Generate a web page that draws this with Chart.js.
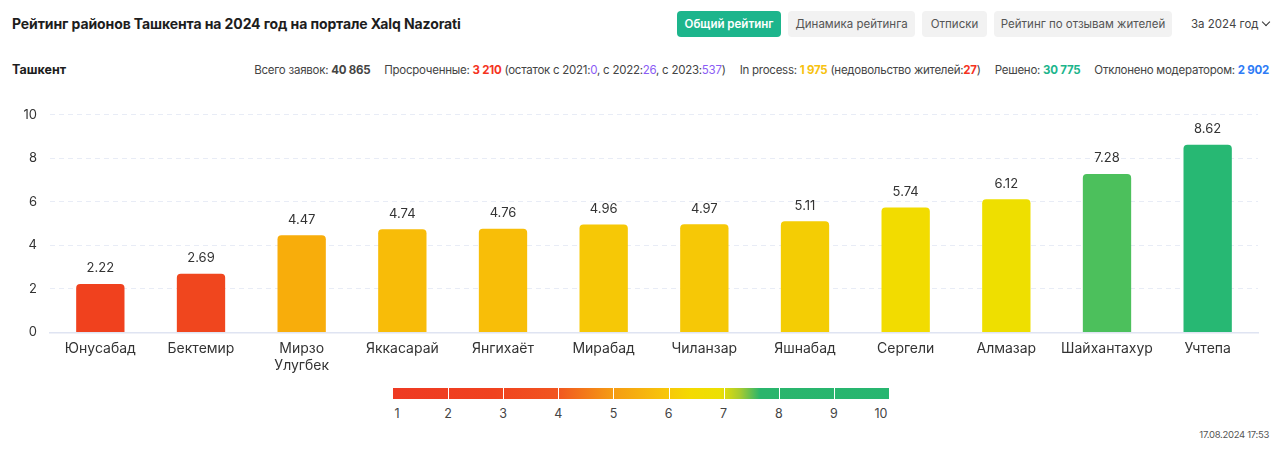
<!DOCTYPE html>
<html><head><meta charset="utf-8">
<script src="https://cdn.jsdelivr.net/npm/chart.js@4"></script>
<style>
html,body{margin:0;padding:0;background:#fff;width:1280px;height:449px;overflow:hidden;font-family:Inter,"Noto Sans",sans-serif;color:#222;}
#title{position:absolute;left:12px;top:15px;font-size:14px;font-weight:700;color:#1d1d1d;letter-spacing:-0.1px}
.btn{position:absolute;top:11px;height:26px;line-height:26px;border-radius:4px;font-size:11.5px;text-align:center;background:#f2f2f2;color:#555}
.btn.on{background:#1db58c;color:#fff;font-weight:600}
#year{position:absolute;left:1191px;top:11px;line-height:26px;font-size:11.5px;color:#444}
#chev{position:absolute;left:1263px;top:19px;width:5px;height:5px;border-right:1.6px solid #333;border-bottom:1.6px solid #333;transform:rotate(45deg)}
#city{position:absolute;left:12px;top:62px;font-size:12.5px;font-weight:700;color:#1d1d1d}
#stats{position:absolute;right:11px;top:63px;font-size:11.5px;color:#444;white-space:nowrap;letter-spacing:-0.25px}
#stats b{font-weight:700}
.sp{display:inline-block;width:14px}
#wrap{position:absolute;left:0;top:94px;width:1280px;height:280px}
#cbar{position:absolute;left:393px;top:388px;width:496px;height:11px;background:linear-gradient(to right,#ee3a23 0%,#f0421f 20%,#f15520 33%,#f59a14 44%,#f7c60a 55%,#f4da00 60%,#ece003 66%,#a6cb30 70%,#2ab56c 74%,#27b670 100%)}
.sep{position:absolute;top:0;width:1px;height:11px;background:#fff}
.cl{position:absolute;top:406px;font-size:12.5px;color:#444;width:20px;text-align:center}
#ts{position:absolute;right:11px;top:429px;font-size:9.5px;color:#555;letter-spacing:-0.3px}
</style></head><body>
<div id="title">Рейтинг районов Ташкента на 2024 год на портале Xalq Nazorati</div>
<div class="btn on" style="left:677px;width:104px">Общий рейтинг</div>
<div class="btn" style="left:788px;width:127px">Динамика рейтинга</div>
<div class="btn" style="left:922px;width:65px">Отписки</div>
<div class="btn" style="left:994px;width:178px">Рейтинг по отзывам жителей</div>
<div id="year">За 2024 год</div><div id="chev"></div>
<div id="city">Ташкент</div>
<div id="stats">Всего заявок: <b>40 865</b><span class="sp"></span>Просроченные: <b style="color:#f5341f">3 210</b> (остаток с 2021:<span style="color:#8a5cf5">0</span>, с 2022:<span style="color:#8a5cf5">26</span>, с 2023:<span style="color:#8a5cf5">537</span>)<span class="sp"></span>In process: <b style="color:#f7c20f">1 975</b> (недовольство жителей:<b style="color:#f5341f">27</b>)<span class="sp"></span>Решено: <b style="color:#1db58c">30 775</b><span class="sp"></span>Отклонено модератором: <b style="color:#2e7cf6">2 902</b></div>
<div id="wrap"><canvas id="c"></canvas></div>
<div id="cbar"></div>
<div id="ts">17.08.2024 17:53</div>
<script>
const categories = ["Юнусабад","Бектемир",["Мирзо","Улугбек"],"Яккасарай","Янгихаёт","Мирабад","Чиланзар","Яшнабад","Сергели","Алмазар","Шайхантахур","Учтепа"];
const ratings = [2.22,2.69,4.47,4.74,4.76,4.96,4.97,5.11,5.74,6.12,7.28,8.62];
const barColors = ["#f0411e","#f0461e","#f8ad0b","#f8bc08","#f8be08","#f6c806","#f6c806","#f4cd04","#f2dc00","#eedf00","#4cc05c","#27b873"];
const yTicks = [0,2,4,6,8,10];
const scaleTicks = [1,2,3,4,5,6,7,8,9,10];

// colour scale labels
const cb = document.getElementById('cbar');
scaleTicks.forEach((t,i)=>{
  const x = 393 + (t-1)*496/9;
  if(i>0 && i<scaleTicks.length-1){const s=document.createElement('div');s.className='sep';s.style.left=(x-393)+'px';cb.appendChild(s);}
  const l=document.createElement('div');l.className='cl';l.textContent=t;
  l.style.left=(x-10+(i===0?4:0)+(i===scaleTicks.length-1?-8:0))+'px';document.body.appendChild(l);
});

const valueLabels = {
  id:'valueLabels',
  afterDatasetsDraw(chart){
    const ctx=chart.ctx; const meta=chart.getDatasetMeta(0);
    ctx.save(); ctx.font='13px Inter, "Noto Sans", sans-serif'; ctx.fillStyle='#333';
    ctx.textAlign='center'; ctx.textBaseline='bottom';
    meta.data.forEach((b,i)=>{ ctx.fillText(ratings[i].toFixed(2), b.x, b.y-9); });
    ctx.restore();
  }
};

new Chart(document.getElementById('c'),{
  type:'bar',
  data:{labels:categories,datasets:[{data:ratings,backgroundColor:barColors,borderRadius:4,borderSkipped:'bottom',barPercentage:0.48,categoryPercentage:1}]},
  options:{
    responsive:true,maintainAspectRatio:false,animation:false,
    layout:{padding:{top:10,right:22,left:0,bottom:0}},
    plugins:{legend:{display:false},tooltip:{enabled:false}},
    scales:{
      x:{grid:{display:false},border:{color:'#dfe4f2',width:1.5},
         ticks:{color:'#333',font:{size:14,family:'Inter, "Noto Sans", sans-serif'},padding:0,maxRotation:0,autoSkip:false}},
      y:{min:0,max:10,afterBuildTicks(a){a.ticks=yTicks.map(v=>({value:v}));},
         afterFit(a){a.width=50;},
         grid:{color:'#e8ecf6',drawTicks:false},border:{display:false,dash:[5,4]},
         ticks:{color:'#333',font:{size:13,family:'Inter, "Noto Sans", sans-serif'},padding:13}}
    }
  },
  plugins:[valueLabels]
});
</script>
</body></html>
